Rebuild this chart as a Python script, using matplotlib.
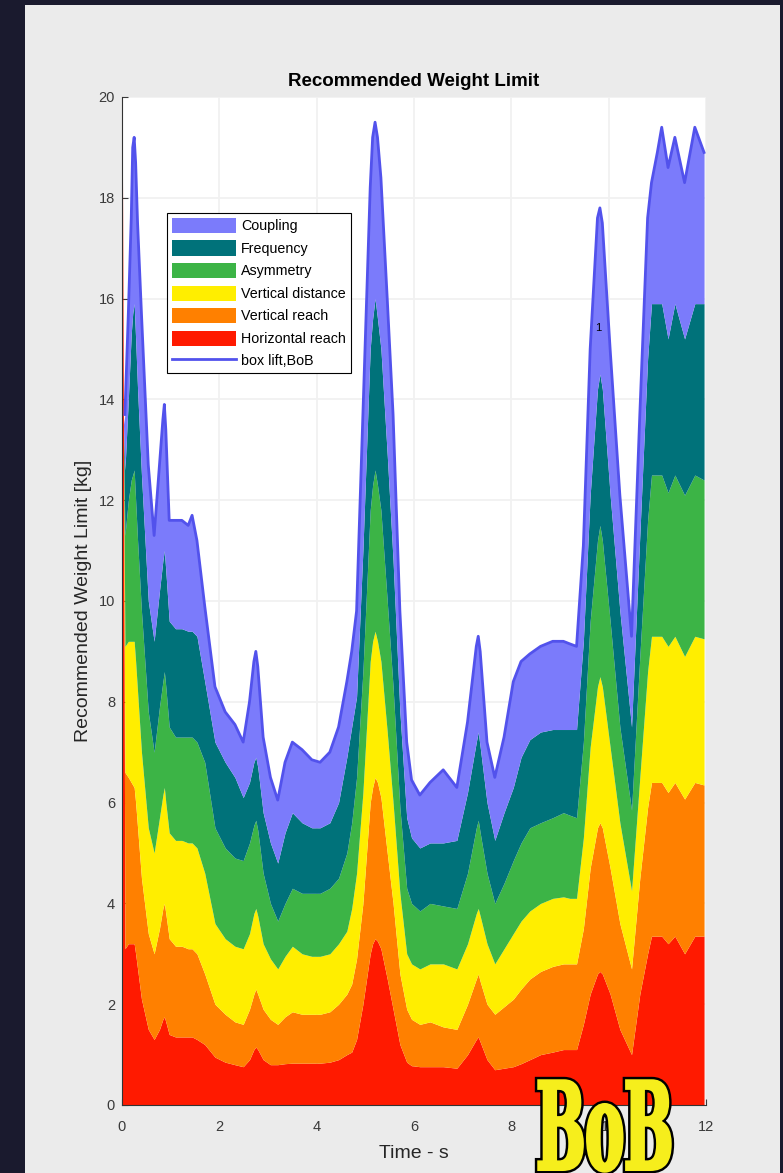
import matplotlib
matplotlib.use("Agg")
import matplotlib.pyplot as plt
from matplotlib.patches import Patch, Rectangle, PathPatch
from matplotlib.lines import Line2D
from matplotlib.textpath import TextPath
from matplotlib.font_manager import FontProperties
from matplotlib.transforms import Affine2D, IdentityTransform

plt.rcParams['font.family'] = ['Liberation Sans', 'DejaVu Sans']

# ---- data: time [s] and the top edge of each stacked layer [kg]
time = [0.00, 0.03, 0.06, 0.13, 0.19, 0.22, 0.25, 0.28, 0.32, 0.40, 0.54, 0.66, 0.77,
        0.84, 0.87, 0.90, 0.97,
        1.10, 1.23, 1.36, 1.44, 1.54, 1.70, 1.91, 2.12, 2.32, 2.49, 2.62, 2.71, 2.75,
        2.79, 2.90,
        3.05, 3.20, 3.35, 3.50, 3.70, 3.90, 4.07, 4.27, 4.45, 4.62, 4.72, 4.82, 4.95,
        5.10, 5.15, 5.20, 5.25, 5.32, 5.45, 5.57, 5.71, 5.85, 5.95, 6.12, 6.33, 6.60,
        6.88, 7.10, 7.28, 7.32, 7.36, 7.50, 7.66, 7.85, 8.04, 8.20, 8.38, 8.60, 8.85,
        9.07, 9.20, 9.34, 9.48, 9.62, 9.77, 9.82, 9.87, 10.03, 10.23, 10.47, 10.64,
        10.80, 10.88, 11.00, 11.09, 11.22, 11.36, 11.56, 11.77, 11.96]

horizontal_top = [21, 13.5, 3.1, 3.2, 3.2, 3.2, 3.2, 3.0, 2.7, 2.1, 1.5, 1.3, 1.5,
                  1.7, 1.75, 1.65, 1.4,
                  1.35, 1.35, 1.35, 1.35, 1.3, 1.2, 0.95, 0.85, 0.8, 0.76, 0.9, 1.1, 1.15,
                  1.1, 0.9,
                  0.8, 0.8, 0.82, 0.83, 0.83, 0.83, 0.83, 0.85, 0.9, 1.0, 1.05, 1.3, 2.0,
                  3.0, 3.2, 3.3, 3.25, 3.1, 2.5, 1.9, 1.2, 0.85, 0.78, 0.76, 0.76, 0.76,
                  0.73, 1.0, 1.3, 1.35, 1.25, 0.9, 0.7, 0.73, 0.76, 0.82, 0.9, 1.0, 1.05,
                  1.1, 1.1, 1.1, 1.6, 2.2, 2.6, 2.65, 2.6, 2.2, 1.5, 1.0, 2.2,
                  3.0, 3.35, 3.35, 3.35, 3.2, 3.35, 3.0, 3.35, 3.35]
vreach_top = [21, 13.5, 6.6, 6.5, 6.4, 6.35, 6.3, 6.0, 5.5, 4.5, 3.4, 3.0, 3.5,
              3.9, 4.0, 3.8, 3.3,
              3.15, 3.15, 3.1, 3.1, 3.0, 2.6, 2.0, 1.8, 1.65, 1.6, 1.9, 2.2, 2.3,
              2.2, 1.9,
              1.7, 1.6, 1.75, 1.85, 1.8, 1.8, 1.8, 1.85, 2.0, 2.2, 2.4, 2.9, 4.0,
              6.0, 6.3, 6.5, 6.4, 6.1, 5.0, 4.0, 2.6, 1.9, 1.7, 1.6, 1.65, 1.55,
              1.5, 2.0, 2.5, 2.6, 2.45, 2.0, 1.8, 1.95, 2.1, 2.3, 2.5, 2.65, 2.75,
              2.8, 2.8, 2.8, 3.5, 4.7, 5.5, 5.6, 5.5, 4.7, 3.6, 2.7, 4.5,
              5.9, 6.4, 6.4, 6.4, 6.2, 6.4, 6.07, 6.4, 6.35]
vdist_top = [21, 13.5, 9.1, 9.2, 9.2, 9.2, 9.2, 8.8, 8.2, 7.0, 5.5, 5.0, 5.7,
             6.15, 6.3, 6.0, 5.4,
             5.25, 5.25, 5.2, 5.2, 5.1, 4.6, 3.6, 3.3, 3.15, 3.1, 3.4, 3.8, 3.9,
             3.75, 3.2,
             2.9, 2.7, 2.95, 3.15, 3.0, 2.95, 2.95, 3.0, 3.2, 3.45, 3.9, 4.6, 6.2,
             8.8, 9.2, 9.4, 9.2, 8.8, 7.4, 6.0, 4.2, 3.0, 2.8, 2.7, 2.8, 2.8,
             2.7, 3.2, 3.8, 3.9, 3.75, 3.2, 2.8, 3.1, 3.4, 3.65, 3.85, 4.0, 4.1,
             4.13, 4.1, 4.1, 5.3, 7.1, 8.3, 8.5, 8.3, 7.1, 5.6, 4.25, 6.5,
             8.6, 9.3, 9.3, 9.3, 9.1, 9.3, 8.9, 9.3, 9.25]
asym_top = [21, 13.5, 11.3, 12.0, 12.4, 12.5, 12.6, 12.0, 11.2, 9.8, 7.8, 7.0, 7.9,
            8.4, 8.6, 8.3, 7.5,
            7.3, 7.3, 7.3, 7.3, 7.2, 6.8, 5.5, 5.1, 4.9, 4.85, 5.2, 5.55, 5.65,
            5.45, 4.6,
            4.0, 3.65, 4.0, 4.3, 4.2, 4.2, 4.2, 4.3, 4.5, 5.0, 5.6, 6.5, 8.6,
            11.8, 12.3, 12.6, 12.3, 11.8, 10.0, 8.3, 5.9, 4.3, 4.0, 3.85, 4.0, 3.95,
            3.9, 4.6, 5.5, 5.65, 5.4, 4.6, 4.0, 4.4, 4.85, 5.2, 5.5, 5.6, 5.7,
            5.8, 5.75, 5.7, 7.2, 9.6, 11.2, 11.5, 11.2, 9.6, 7.5, 5.85, 8.9,
            11.6, 12.5, 12.5, 12.5, 12.15, 12.5, 12.1, 12.5, 12.4]
freq_top = [21, 13.5, 12.6, 14.0, 15.3, 15.7, 15.9, 15.2, 14.2, 12.5, 10.0, 9.2, 10.2,
            10.8, 11.0, 10.6, 9.6,
            9.45, 9.45, 9.4, 9.4, 9.3, 8.4, 7.2, 6.8, 6.5, 6.1, 6.4, 6.8, 6.9,
            6.7, 5.8,
            5.2, 4.8, 5.4, 5.8, 5.6, 5.5, 5.5, 5.6, 6.0, 6.9, 7.5, 8.1, 11.0,
            15.0, 15.6, 16.0, 15.6, 15.0, 12.9, 10.8, 7.8, 5.7, 5.3, 5.1, 5.2, 5.2,
            5.25, 6.2, 7.2, 7.4, 7.1, 6.0, 5.25, 5.8, 6.3, 6.9, 7.25, 7.4, 7.45,
            7.45, 7.45, 7.45, 9.2, 12.1, 14.2, 14.5, 14.2, 12.1, 9.8, 7.5, 11.3,
            14.8, 15.9, 15.9, 15.9, 15.2, 15.9, 15.2, 15.9, 15.9]
total = [21, 13.5, 13.7, 15.7, 17.6, 19.0, 19.2, 18.7, 17.5, 15.7, 12.7, 11.3, 12.7,
         13.6, 13.9, 13.4, 11.6,
         11.6, 11.6, 11.5, 11.7, 11.2, 9.9, 8.3, 7.8, 7.55, 7.2, 8.0, 8.8, 9.0,
         8.7, 7.3,
         6.5, 6.05, 6.8, 7.2, 7.05, 6.85, 6.8, 7.0, 7.5, 8.4, 9.0, 9.8, 13.7,
         18.2, 19.2, 19.5, 19.2, 18.4, 16.0, 13.7, 9.8, 7.2, 6.45, 6.15, 6.4, 6.65,
         6.3, 7.6, 9.1, 9.3, 9.0, 7.2, 6.5, 7.3, 8.4, 8.8, 8.95, 9.1, 9.2,
         9.2, 9.15, 9.1, 11.1, 15.0, 17.6, 17.8, 17.5, 15.0, 12.1, 9.3, 13.7,
         17.6, 18.3, 18.9, 19.4, 18.6, 19.2, 18.3, 19.4, 18.9]

layer_names = ['Coupling', 'Frequency', 'Asymmetry', 'Vertical distance',
               'Vertical reach', 'Horizontal reach']
layer_colors = ['#7b7bfb', '#00727a', '#3cb446', '#ffee00', '#ff8000', '#ff1a00']
line_label = 'box lift,BoB'

# ---- figure
fig = plt.figure(figsize=(7.83, 11.73), dpi=100)
fig.patch.set_facecolor('#1a1a2e')
fig.patches.append(Rectangle((25 / 783, 0), 755 / 783, 1168 / 1173,
                             transform=fig.transFigure, facecolor='#ebebeb',
                             edgecolor='none', zorder=-10))

ax = fig.add_axes([122 / 783, 68 / 1173, 584 / 783, 1008 / 1173])
ax.set_facecolor('white')

bottoms = [[0] * len(time), horizontal_top, vreach_top, vdist_top, asym_top, freq_top]
tops = [horizontal_top, vreach_top, vdist_top, asym_top, freq_top, total]
for lo, hi, col in zip(bottoms, tops, layer_colors[::-1]):
    ax.fill_between(time, lo, hi, color=col, lw=0, zorder=2)

ax.plot(time[2:], total[2:], color='#5252ec', lw=2.0, zorder=3)
ax.text(9.72, 15.35, '1', fontsize=8, color='black', zorder=4)

ax.set_xlim(0, 12)
ax.set_ylim(0, 20)
ax.set_xticks(range(0, 13, 2))
ax.set_yticks(range(0, 21, 2))
ax.grid(True, color='#f1f1f1', lw=1.3)
ax.set_axisbelow(True)
ax.tick_params(direction='in', length=4, labelsize=10.5, colors='#3a3a3a')
ax.tick_params(axis='x', pad=11)
ax.tick_params(axis='y', pad=5)
for s in ['top', 'right']:
    ax.spines[s].set_visible(False)
for s in ['left', 'bottom']:
    ax.spines[s].set_color('#333333')
    ax.spines[s].set_linewidth(0.8)

ax.set_title('Recommended Weight Limit', fontsize=13.5, fontweight='bold', pad=8)
ax.set_xlabel('Time - s', fontsize=14, color='#262626', labelpad=8)
ax.set_ylabel('Recommended Weight Limit [kg]', fontsize=14, color='#262626', labelpad=5)

handles = [Patch(facecolor=c, edgecolor='none') for c in layer_colors]
handles.append(Line2D([], [], color='#5252ec', lw=2.0))
leg = ax.legend(handles, layer_names + [line_label], loc='upper left',
                bbox_to_anchor=(0.077, 0.885), borderaxespad=0, fancybox=False,
                edgecolor='black', framealpha=1, fontsize=10.3, handlelength=4.5,
                handleheight=1.25, labelspacing=0.5, handletextpad=0.35, borderpad=0.35)
leg.get_frame().set_linewidth(0.8)

# ---- BoB logo
tp = TextPath((0, 0), 'BoB', size=100, prop=FontProperties(family='DejaVu Serif', weight='bold'))
bb = tp.get_extents()
tr = Affine2D().translate(-bb.x0, -bb.y0).scale(131 / bb.width, 90 / bb.height).translate(539, 2)
logo_path = tr.transform_path(tp)
fig.add_artist(PathPatch(logo_path, facecolor='black', edgecolor='black', lw=6,
                         transform=IdentityTransform(), zorder=20))
fig.add_artist(PathPatch(logo_path, facecolor='#f6ee1c', edgecolor='#f6ee1c', lw=2.5,
                         transform=IdentityTransform(), zorder=21))

fig.savefig('out.png', dpi=100)
